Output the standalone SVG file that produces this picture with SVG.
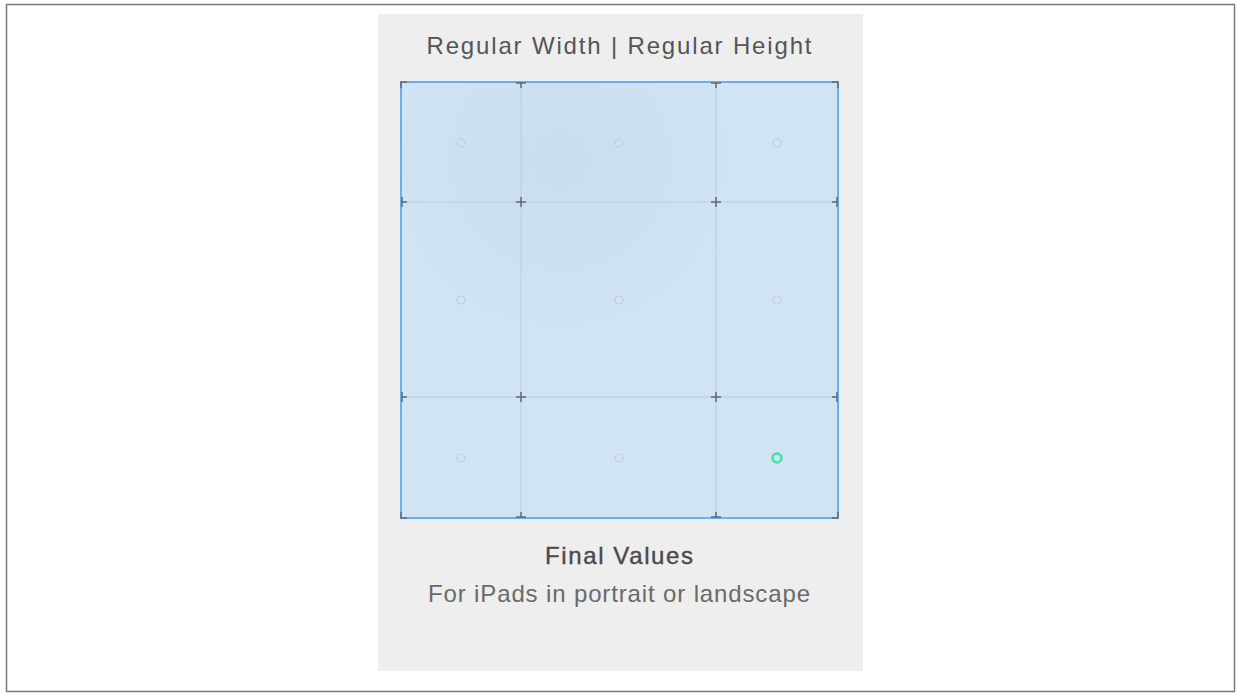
<svg xmlns="http://www.w3.org/2000/svg" width="1240" height="697" viewBox="0 0 1240 697">
<style>
.t{font-family:"Liberation Sans",Arial,sans-serif;text-anchor:middle}
.grid{stroke:#bccedb;stroke-width:1;fill:none}
.tick{stroke:#5d6b76;stroke-width:1.5;fill:none}
.dot{fill:none;stroke:#bfcfdb;stroke-width:1.2}
</style>
<defs>
<radialGradient id="glow" cx="560" cy="160" r="200" gradientUnits="userSpaceOnUse">
<stop offset="0" stop-color="#c9ddef"/>
<stop offset="0.6" stop-color="#cce0f1" stop-opacity="0.6"/>
<stop offset="1" stop-color="#d0e4f3" stop-opacity="0"/>
</radialGradient>
</defs>
<rect x="0" y="0" width="1240" height="697" fill="#ffffff"/>
<rect x="6.5" y="4.5" width="1228" height="687" fill="none" stroke="#7a7a7a" stroke-width="1.5"/>
<g id="panel">
<rect x="378" y="14" width="485" height="657" fill="#eeeeee"/>
<text class="t" x="619" y="54" font-size="24" fill="#555555" textLength="385" lengthAdjust="spacing">Regular Width | Regular Height</text>
</g>
<g id="grid-node">
<rect x="401" y="82" width="437" height="436" fill="#d0e4f3"/>
<rect x="401" y="82" width="437" height="436" fill="url(#glow)"/>
<path class="grid" d="M521 82V518M716 82V518M401 202H838M401 397H838"/>
<rect x="401" y="82" width="437" height="436" fill="none" stroke="#66b0f2" stroke-width="2"/>
<g class="tick">
<path d="M401 88V82H407M832 82H838V88M401 512V518H407M832 518H838V512"/>
<path d="M516 83H526M521 83V88M711 83H721M716 83V88"/>
<path d="M516 517H526M521 517V512M711 517H721M716 517V512"/>
<path d="M402 197V207M402 202H407M402 392V402M402 397H407"/>
<path d="M837 197V207M837 202H832M837 392V402M837 397H832"/>
<path d="M516 202H526M521 197V207M711 202H721M716 197V207"/>
<path d="M516 397H526M521 392V402M711 397H721M716 392V402"/>
</g>
<g>
<circle class="dot" cx="461" cy="143" r="4"/>
<circle class="dot" cx="619" cy="143" r="4"/>
<circle class="dot" cx="777" cy="143" r="4"/>
<circle class="dot" cx="461" cy="300" r="4"/>
<circle class="dot" cx="619" cy="300" r="4"/>
<circle class="dot" cx="777" cy="300" r="4"/>
<circle class="dot" cx="461" cy="458" r="4"/>
<circle class="dot" cx="619" cy="458" r="4"/>
<circle cx="777" cy="458" r="4.5" fill="none" stroke="#3fe3a6" stroke-width="2.5"/>
</g>
</g>
<g id="caption">
<text class="t" x="619" y="564" font-size="24" fill="#4a4a4a" stroke="#4a4a4a" stroke-width="0.4" textLength="148" lengthAdjust="spacing">Final Values</text>
<text class="t" x="619" y="602" font-size="24" fill="#6a6a6a" textLength="382" lengthAdjust="spacing">For iPads in portrait or landscape</text>
</g>
</svg>
